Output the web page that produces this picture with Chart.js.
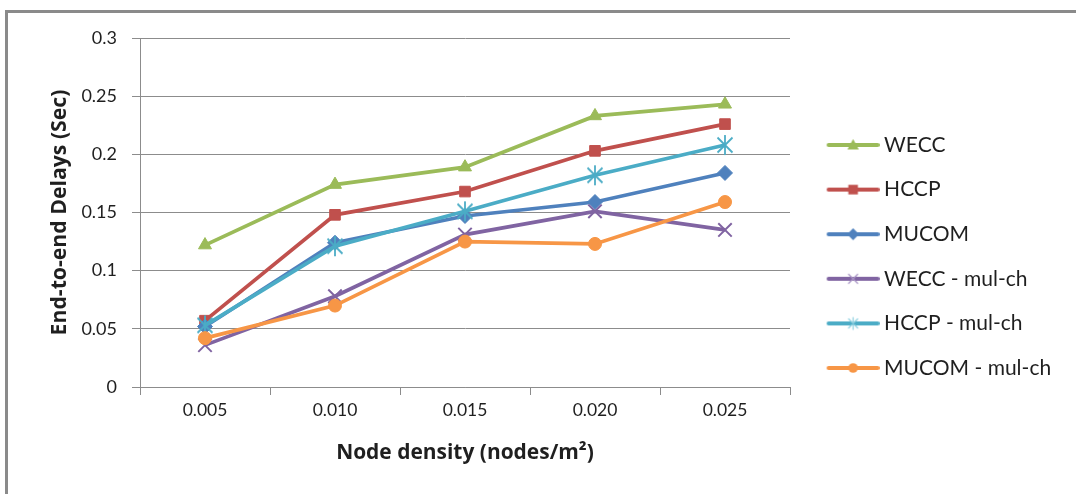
<!DOCTYPE html>
<html>
<head>
<meta charset="utf-8">
<script src="https://cdn.jsdelivr.net/npm/chart.js@4.4.1/dist/chart.umd.min.js"></script>
<style>
  html, body { margin: 0; padding: 0; background: #fff; overflow: hidden; }
  #wrap { position: relative; width: 1076px; height: 494px; }
  #frame { position: absolute; left: 5px; top: 10px; right: -10px; bottom: -10px;
           border-top: 3px solid #8a8a8a; border-left: 3px solid #8a8a8a; }
  canvas { position: absolute; left: 0; top: 0; }
</style>
</head>
<body>
<div id="wrap"><div id="frame"></div><canvas id="c" width="1076" height="494"></canvas></div>
<script>
// Node density categories (nodes/m^2)
const densities = ['0.005', '0.010', '0.015', '0.020', '0.025'];

// End-to-end delay (seconds) per scheme
const wecc        = [0.122, 0.174, 0.189, 0.233, 0.243];
const hccp        = [0.057, 0.148, 0.168, 0.203, 0.226];
const mucom       = [0.052, 0.124, 0.147, 0.159, 0.184];
const weccMulCh   = [0.036, 0.078, 0.131, 0.151, 0.135];
const hccpMulCh   = [0.053, 0.121, 0.151, 0.182, 0.208];
const mucomMulCh  = [0.042, 0.070, 0.125, 0.123, 0.159];

const seriesNames = ['WECC', 'HCCP', 'MUCOM', 'WECC - mul-ch', 'HCCP - mul-ch', 'MUCOM - mul-ch'];

// y axis range
const yMin = 0, yMax = 0.3, yStep = 0.05;

const FONT = 'Lato';
const TITLE_FONT = 'Open Sans';
const GRID = '#8c8c8c';
const TEXT = '#1f1f1f';

const colors = ['#9bbb59', '#c0504d', '#4f81bd', '#8064a2', '#4bacc6', '#f79646'];
const kinds  = ['triangle', 'square', 'diamond', 'x', 'star', 'circle'];

// Marker drawing shared by the star point image and the legend icons
function drawMark(g, kind, x, y, r, color, lw) {
  g.save();
  g.fillStyle = color; g.strokeStyle = color; g.lineWidth = lw;
  g.beginPath();
  if (kind === 'triangle') {
    g.moveTo(x, y - r); g.lineTo(x + r * 0.95, y + r * 0.75); g.lineTo(x - r * 0.95, y + r * 0.75);
    g.closePath(); g.fill();
  } else if (kind === 'square') {
    g.rect(x - r * 0.8, y - r * 0.8, r * 1.6, r * 1.6); g.fill();
  } else if (kind === 'diamond') {
    g.moveTo(x, y - r); g.lineTo(x + r, y); g.lineTo(x, y + r); g.lineTo(x - r, y);
    g.closePath(); g.fill();
  } else if (kind === 'circle') {
    g.arc(x, y, r * 0.8, 0, Math.PI * 2); g.fill();
  } else if (kind === 'x') {
    const d = r * 0.75;
    g.moveTo(x - d, y - d); g.lineTo(x + d, y + d);
    g.moveTo(x + d, y - d); g.lineTo(x - d, y + d); g.stroke();
  } else if (kind === 'star') {
    const d = r * 0.75;
    g.moveTo(x - d, y - d); g.lineTo(x + d, y + d);
    g.moveTo(x + d, y - d); g.lineTo(x - d, y + d);
    g.moveTo(x, y - r); g.lineTo(x, y + r); g.stroke();
  }
  g.restore();
}

// Asterisk point image for the HCCP - mul-ch series
function starImage(color, r, lw) {
  const s = Math.ceil(2 * r + lw + 2);
  const c = document.createElement('canvas');
  c.width = s; c.height = s;
  drawMark(c.getContext('2d'), 'star', s / 2, s / 2, r, color, lw);
  return c;
}

// Legend icons: a short line segment with the series marker in the middle
const ICON_W = 72, ICON_H = 22;
function legendIcon(color, kind, markColor) {
  const c = document.createElement('canvas');
  c.width = ICON_W; c.height = ICON_H;
  const g = c.getContext('2d');
  g.strokeStyle = color; g.lineWidth = 4; g.lineCap = 'round';
  g.beginPath(); g.moveTo(21, ICON_H / 2); g.lineTo(70, ICON_H / 2); g.stroke();
  const lw = (kind === 'x' || kind === 'star') ? 1.2 : 1;
  drawMark(g, kind, 45.5, ICON_H / 2, 6, markColor || color, lw);
  return c;
}

const legendIcons = kinds.map((k, i) => legendIcon(colors[i], k,
  k === 'x' ? '#a894c4' : (k === 'star' ? '#8fd0e0' : colors[i])));

const seriesData = [wecc, hccp, mucom, weccMulCh, hccpMulCh, mucomMulCh];
const pointStyles = ['triangle', 'rect', 'rectRot', 'crossRot', starImage(colors[4], 10, 1.8), 'circle'];
const pointRadii  = [7.5, 7.5, 7.5, 9.5, 10, 6.5];
const pointBorders = [1, 1, 1, 2, 1.8, 1];

const datasets = seriesData.map((d, i) => ({
  label: seriesNames[i],
  data: d,
  borderColor: colors[i],
  backgroundColor: colors[i],
  borderWidth: 3.7,
  tension: 0,
  pointStyle: pointStyles[i],
  pointRadius: pointRadii[i],
  pointHoverRadius: pointRadii[i],
  pointBorderWidth: pointBorders[i],
  pointBackgroundColor: colors[i],
  pointBorderColor: colors[i],
  order: seriesData.length - i
}));

// Layout targets for the plot box
const CANVAS_W = 1076, CANVAS_H = 494;
const PLOT_LEFT = 140, PLOT_RIGHT = 790, PLOT_TOP = 38, PLOT_BOTTOM = 387;
const PAD_LEFT = 47, PAD_BOTTOM = 19;
const LEGEND_FONT = 21, LEGEND_STEP = 44.6, LEGEND_BOX = 60;
const legendPad = LEGEND_STEP - LEGEND_FONT;
const LEGEND_WIDTH = CANVAS_W - PLOT_RIGHT;

// Axis title sizes chosen so the titles span their intended lengths
const mctx = document.createElement('canvas').getContext('2d');
function sizeForWidth(text, weight, family, width) {
  mctx.font = `${weight} 100px "${family}"`;
  return 100 * width / mctx.measureText(text).width;
}
const X_TITLE = 'Node density (nodes/m²)';
const Y_TITLE = 'End-to-end Delays (Sec)';
const xTitleSize = sizeForWidth(X_TITLE, 'bold', TITLE_FONT, 258);
const yTitleSize = sizeForWidth(Y_TITLE, 'bold', TITLE_FONT, 246);

const chart = new Chart(document.getElementById('c'), {
  type: 'line',
  data: { labels: densities, datasets },
  options: {
    responsive: false,
    animation: false,
    layout: { padding: { left: PAD_LEFT, top: PLOT_TOP, right: 0, bottom: PAD_BOTTOM } },
    plugins: {
      tooltip: { enabled: false },
      legend: {
        position: 'right',
        align: 'center',
        labels: {
          usePointStyle: true,
          pointStyleWidth: LEGEND_BOX,
          padding: legendPad,
          color: TEXT,
          font: { family: FONT, size: LEGEND_FONT },
          generateLabels: chart => chart.data.datasets.map((ds, i) => ({
            text: ds.label,
            pointStyle: legendIcons[i],
            fillStyle: ds.borderColor,
            strokeStyle: ds.borderColor,
            lineWidth: 0,
            hidden: false,
            datasetIndex: i,
            fontColor: TEXT
          }))
        }
      }
    },
    scales: {
      x: {
        type: 'category',
        offset: true,
        afterFit: s => { s.height = CANVAS_H - PAD_BOTTOM - PLOT_BOTTOM; },
        grid: { offset: true, drawOnChartArea: false, drawTicks: true, tickLength: 8, color: GRID },
        border: { display: true, color: GRID, width: 1 },
        ticks: { color: TEXT, padding: 5, font: { family: FONT, size: 17.5 }, maxRotation: 0 },
        title: {
          display: true, text: X_TITLE, color: TEXT,
          font: { family: TITLE_FONT, size: xTitleSize, weight: 'bold' },
          padding: { top: 0, bottom: 9 }
        }
      },
      y: {
        min: yMin, max: yMax,
        afterFit: s => { s.width = PLOT_LEFT - PAD_LEFT; },
        grid: { color: GRID, lineWidth: 1, drawTicks: true, tickLength: 8 },
        border: { display: true, color: GRID, width: 1 },
        ticks: {
          stepSize: yStep, color: TEXT, padding: 15,
          font: { family: FONT, size: 18 },
          callback: v => String(Math.round(v * 100) / 100)
        },
        title: {
          display: true, text: Y_TITLE, color: TEXT,
          font: { family: TITLE_FONT, size: yTitleSize, weight: 'bold' },
          padding: { top: 0, bottom: 0 }
        }
      }
    }
  }
});

// The side legend gets a fixed width so the plot box ends at PLOT_RIGHT
const legend = chart.legend;
const baseFit = Object.getPrototypeOf(legend).fit;
legend.fit = function () {
  baseFit.call(this);
  if (!this.isHorizontal()) this.width = LEGEND_WIDTH;
};
chart.update();
</script>
</body>
</html>
